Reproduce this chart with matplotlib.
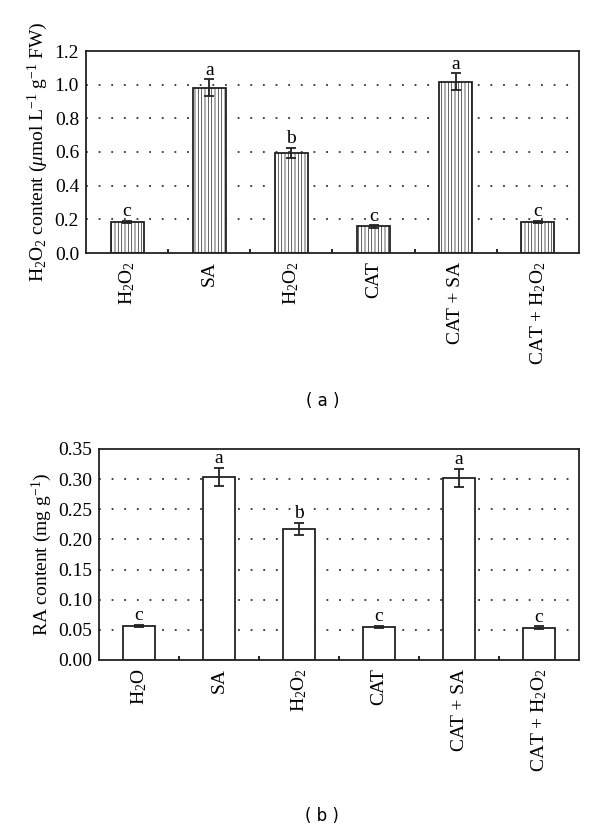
import matplotlib
matplotlib.use("Agg")
import matplotlib.pyplot as plt
import numpy as np

plt.rcParams['font.family'] = ['Liberation Serif', 'DejaVu Serif']
plt.rcParams['mathtext.fontset'] = 'custom'
plt.rcParams['mathtext.rm'] = 'Liberation Serif'
plt.rcParams['mathtext.it'] = 'Liberation Serif:italic'
plt.rcParams['hatch.color'] = '#cfcfcf'
plt.rcParams['hatch.linewidth'] = 0.5

labels_a = [r'H$_2$O$_2$', 'SA', r'H$_2$O$_2$', 'CAT', 'CAT + SA', r'CAT + H$_2$O$_2$']
values_a = [0.184, 0.982, 0.593, 0.158, 1.018, 0.184]
errors_a = [0.008, 0.050, 0.030, 0.007, 0.050, 0.007]
letters_a = ['c', 'a', 'b', 'c', 'a', 'c']

labels_b = [r'H$_2$O', 'SA', r'H$_2$O$_2$', 'CAT', 'CAT + SA', r'CAT + H$_2$O$_2$']
values_b = [0.0565, 0.304, 0.217, 0.055, 0.302, 0.0537]
errors_b = [0.002, 0.015, 0.010, 0.002, 0.015, 0.002]
letters_b = ['c', 'a', 'b', 'c', 'a', 'c']

fig = plt.figure(figsize=(6.0, 8.31), dpi=100)
W, H = 600, 831
ax1 = fig.add_axes([86 / W, 1 - 253 / H, (579 - 86) / W, (253 - 51) / H])
ax2 = fig.add_axes([99 / W, 1 - 660 / H, (579 - 99) / W, (660 - 449) / H])


def draw(ax, labels, values, errors, letters, ymax, step, fmt, hatch, ylabel, letter_off):
    x = np.arange(len(labels))
    ax.bar(x, values, width=0.4, color='white', edgecolor='#222222', linewidth=1.3,
           hatch=hatch, zorder=2)
    ax.errorbar(x, values, yerr=errors, fmt='none', ecolor='#222222', elinewidth=1.3,
                capsize=3.3, capthick=1.3, zorder=3)
    for xi, v, e, l in zip(x, values, errors, letters):
        ax.text(xi, v + e + letter_off, l, ha='center', va='bottom', fontsize=14)
    ax.set_xlim(-0.5, len(labels) - 0.5)
    ax.set_ylim(0, ymax)
    ticks = np.arange(0, ymax + step / 2, step)
    ax.set_yticks(ticks)
    ax.set_yticklabels([fmt.format(t) for t in ticks], fontsize=14)
    for t in ticks[1:-1]:
        ax.axhline(t, color='#333333', linewidth=1.3, linestyle=(0, (1, 6)), zorder=1)
    ax.set_xticks(x)
    ax.set_xticklabels(labels, rotation=90, fontsize=14)
    ax.set_xticks(np.arange(0.5, len(labels) - 0.5, 1), minor=True)
    ax.tick_params(axis='x', which='major', length=0, pad=6)
    ax.tick_params(axis='x', which='minor', direction='in', length=3, width=1.2)
    ax.tick_params(axis='y', which='major', length=0, pad=5)
    for s in ax.spines.values():
        s.set_linewidth(1.3)
        s.set_color('#222222')
    ax.set_ylabel(ylabel, fontsize=14, labelpad=3)


draw(ax1, labels_a, values_a, errors_a, letters_a, 1.2, 0.2, '{:.1f}', '|||||',
     r'H$_2$O$_2$ content ($\mathit{\mu}$mol L$^{-1}$ g$^{-1}$ FW)', 0.004)
draw(ax2, labels_b, values_b, errors_b, letters_b, 0.35, 0.05, '{:.2f}', None,
     r'RA content (mg g$^{-1}$)', 0.0015)

fig.text(323 / W, 1 - 401 / H, '( a )', ha='center', va='center',
         fontsize=12, family='DejaVu Sans')
fig.text(322 / W, 1 - 816 / H, '( b )', ha='center', va='center',
         fontsize=12, family='DejaVu Sans')

fig.savefig('out.png', dpi=100)
